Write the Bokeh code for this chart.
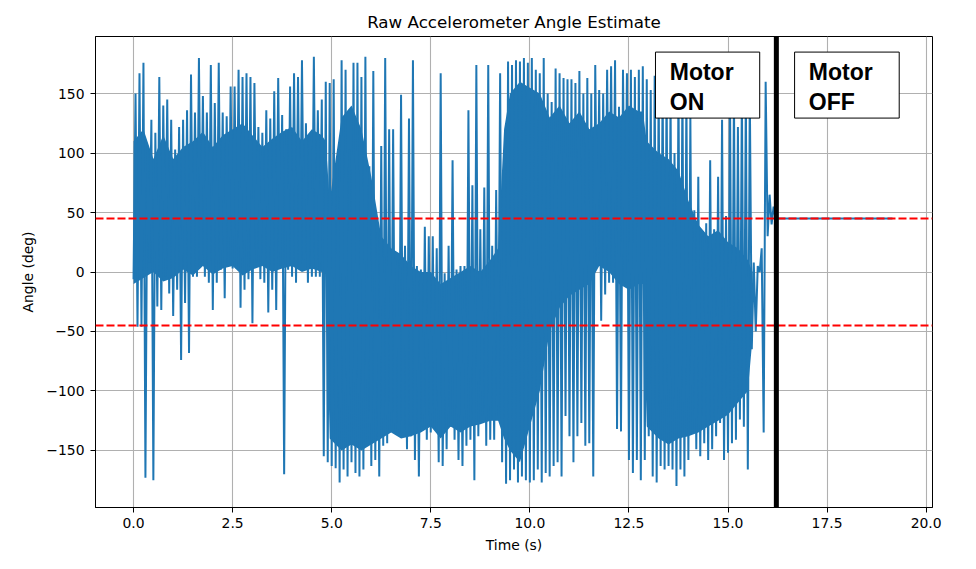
from bokeh.plotting import figure
from bokeh.models import Span, BoxAnnotation, Label, FixedTicker
from bokeh.embed import file_html
from bokeh.resources import INLINE

# envelope of the raw angle signal in 0.1 s bins
env_start = 0.0
env_step = 0.1
env_hi = [150, 167, 176, 106, 128, 117, 164, 140, 145, 128,
          103, 122, 128, 136, 166, 134, 180, 148, 134, 174,
          142, 176, 134, 131, 156, 156, 170, 164, 167, 164,
          159, 122, 117, 136, 129, 152, 163, 132, 120, 156,
          167, 164, 178, 125, 114, 181, 136, 145, 160, 159,
          162, 94, 178, 170, 103, 176, 176, 164, 181, 89,
          169, 33, 106, 180, 120, 120, 10, 149, 22, 129,
          178, 5, 2, 38, 30, 30, 20, 167, -1, 22,
          94, 2, 5, 5, 136, 73, 174, 36, 71, 174,
          22, 69, 167, 100, 177, 174, 178, 177, 180, 176,
          180, 170, 167, 180, 150, 143, 171, 167, 163, 162,
          162, 159, 169, 150, 163, 150, 174, 153, 150, 170,
          173, 178, 139, 170, 167, 170, 164, 170, 173, 162,
          153, 165, 160, 165, 160, 150, 100, 160, 160, 150,
          131, 52, 80, 30, 41, 94, 36, 80, 128, 47,
          150, 150, 122, 150, 150, 150, 8, 5, 20, 160,
          65, 55]
env_lo = [-6, -46, -46, -173, 8, -175, -29, -32, -4, -18,
          -37, -15, -74, -26, -68, -4, -4, 5, -4, -9,
          -32, -9, 2, -22, 5, 3, 3, -30, -15, -6,
          -43, 8, -6, -9, -34, -15, -32, 5, -170, 2,
          -4, -9, 2, 10, -9, -4, -4, -4, -155, -160,
          -163, -165, -177, -166, -172, -160, -169, -172, -166, -144,
          -163, -158, -172, -146, -144, -132, -135, -135, -135, -149,
          -138, -158, -172, -130, -141, -135, -132, -160, -163, -149,
          -130, -141, -158, -163, -146, -141, -175, -138, -121, -146,
          -141, -141, -121, -160, -178, -175, -166, -177, -172, -175,
          -177, -175, -166, -177, -169, -172, -163, -160, -172, -121,
          -138, -160, -138, -127, -146, -144, -172, 5, -41, -19,
          -9, -9, -132, -134, -9, -158, -169, -158, -175, -158,
          -138, -172, -177, -163, -166, -163, -166, -180, -166, -172,
          -158, -135, -149, -155, -144, -158, -149, -138, -127, -158,
          -152, -144, -141, -124, -130, -166, -65, -50, 0, -135,
          30, 40]

# dense (solid looking) core of the signal
core_time = [0.0, 0.25, 0.5, 0.75, 1.0, 1.25, 1.5, 1.75, 2.0, 2.25,
             2.5, 2.75, 3.0, 3.25, 3.5, 3.75, 4.0, 4.25, 4.5, 4.75,
             4.85, 4.95, 5.25, 5.5, 5.75, 6.0, 6.25, 6.5, 6.75, 7.0,
             7.25, 7.5, 7.75, 8.0, 8.25, 8.5, 8.75, 9.0, 9.2, 9.35,
             9.5, 9.75, 10.0, 10.25, 10.5, 10.75, 11.0, 11.25, 11.5, 11.75,
             12.0, 12.25, 12.5, 12.75, 12.85, 12.95, 13.25, 13.5, 13.75, 14.0,
             14.25, 14.5, 14.75, 15.0, 15.25, 15.5, 15.62]
core_lo = [-10, -5, 0, -8, -5, 2, -3, 5, -2, 3,
           5, -3, 2, 5, 0, 3, 5, 0, 3, 0,
           0, -140, -150, -145, -150, -145, -140, -135, -140, -138,
           -135, -130, -140, -130, -135, -130, -128, -125, -125, -140,
           -150, -160, -130, -100, -50, -30, -20, -15, -10, 5,
           0, -10, -15, -10, -10, -130, -140, -145, -140, -138,
           -135, -130, -125, -120, -110, -100, -55]
core_hi = [110, 120, 95, 115, 95, 105, 110, 118, 105, 115,
           120, 125, 115, 105, 112, 118, 122, 110, 120, 115,
           110, 60, 130, 140, 120, 80, 30, 20, 15, 5,
           0, 0, -10, -5, 0, 5, 0, 10, 20, 120,
           150, 160, 155, 150, 130, 140, 125, 135, 120, 125,
           135, 130, 140, 135, 135, 110, 100, 95, 85, 60,
           40, 30, 35, 25, 20, 10, 0]

rest_time = [16.2, 19.15]
rest_angle = [45, 45]

limit_angles = [45, -45]
motor_off_time = 16.22

x_ticks = [0, 2.5, 5, 7.5, 10, 12.5, 15, 17.5, 20]
x_tick_labels = ["0.0", "2.5", "5.0", "7.5", "10.0", "12.5", "15.0", "17.5", "20.0"]
y_ticks = [-150, -100, -50, 0, 50, 100, 150]
y_tick_labels = ["\u2212150", "\u2212100", "\u221250", "0", "50", "100", "150"]

xs = []
ys = []
for i in range(len(env_hi)):
    t = env_start + i * env_step
    xs.append(t)
    ys.append(env_lo[i])
    xs.append(t + env_step / 2)
    ys.append(env_hi[i])
xs = xs + rest_time
ys = ys + rest_angle

font = "DejaVu Sans"
blue = "#1f77b4"

p = figure(width=968, height=561, x_range=(-0.96, 20.16), y_range=(-198, 198),
           title="Raw Accelerometer Angle Estimate",
           output_backend="svg", toolbar_location=None,
           min_border_left=95, min_border_right=36, min_border_top=36, min_border_bottom=54)

p.title.align = "center"
p.title.text_font = font
p.title.text_font_size = "16.7px"
p.title.text_font_style = "normal"
p.title.text_color = "black"
p.title.standoff = 9

p.outline_line_color = "black"
p.outline_line_width = 1
p.outline_line_alpha = 1

p.xaxis.axis_label = "Time (s)"
p.yaxis.axis_label = "Angle (deg)"
p.xaxis.ticker = FixedTicker(ticks=x_ticks)
p.yaxis.ticker = FixedTicker(ticks=y_ticks)
p.xaxis.major_label_overrides = dict(zip(x_ticks, x_tick_labels))
p.yaxis.major_label_overrides = dict(zip(y_ticks, y_tick_labels))

for ax in [p.xaxis, p.yaxis]:
    ax.axis_label_text_font = font
    ax.axis_label_text_font_size = "13.9px"
    ax.axis_label_text_font_style = "normal"
    ax.axis_label_text_color = "black"
    ax.major_label_text_font = font
    ax.major_label_text_font_size = "13.9px"
    ax.major_label_text_color = "black"
    ax.axis_line_color = "black"
    ax.major_tick_line_color = "black"
    ax.major_tick_out = 5
    ax.major_tick_in = 0
    ax.minor_tick_line_color = None
p.xaxis.major_label_standoff = 5
p.yaxis.major_label_standoff = 6
p.xaxis.axis_label_standoff = 6
p.yaxis.axis_label_standoff = 7

p.xgrid.grid_line_color = "#b0b0b0"
p.ygrid.grid_line_color = "#b0b0b0"
p.xgrid.grid_line_width = 1.1
p.ygrid.grid_line_width = 1.1

p.varea(x=core_time, y1=core_lo, y2=core_hi, fill_color=blue, fill_alpha=1)
p.line(xs, ys, line_color=blue, line_width=2)

for a in limit_angles:
    p.add_layout(Span(location=a, dimension="width", line_color="red",
                      line_dash="8 3", line_width=2))
p.add_layout(Span(location=motor_off_time, dimension="height",
                  line_color="black", line_width=5))

p.add_layout(BoxAnnotation(left=13.17, right=15.80, bottom=129.4, top=184.9,
                           fill_color="white", fill_alpha=1,
                           line_color="black", line_width=1, line_alpha=1))
p.add_layout(BoxAnnotation(left=16.68, right=19.32, bottom=129.4, top=184.9,
                           fill_color="white", fill_alpha=1,
                           line_color="black", line_width=1, line_alpha=1))

p.add_layout(Label(x=13.53, y=179, text="Motor\nON", text_font="Liberation Sans",
                   text_font_style="bold", text_font_size="23px",
                   text_baseline="top", text_line_height=1.15, text_color="black"))
p.add_layout(Label(x=17.04, y=179, text="Motor\nOFF", text_font="Liberation Sans",
                   text_font_style="bold", text_font_size="23px",
                   text_baseline="top", text_line_height=1.15, text_color="black"))

open("out.html", "w").write(file_html(p, INLINE))
